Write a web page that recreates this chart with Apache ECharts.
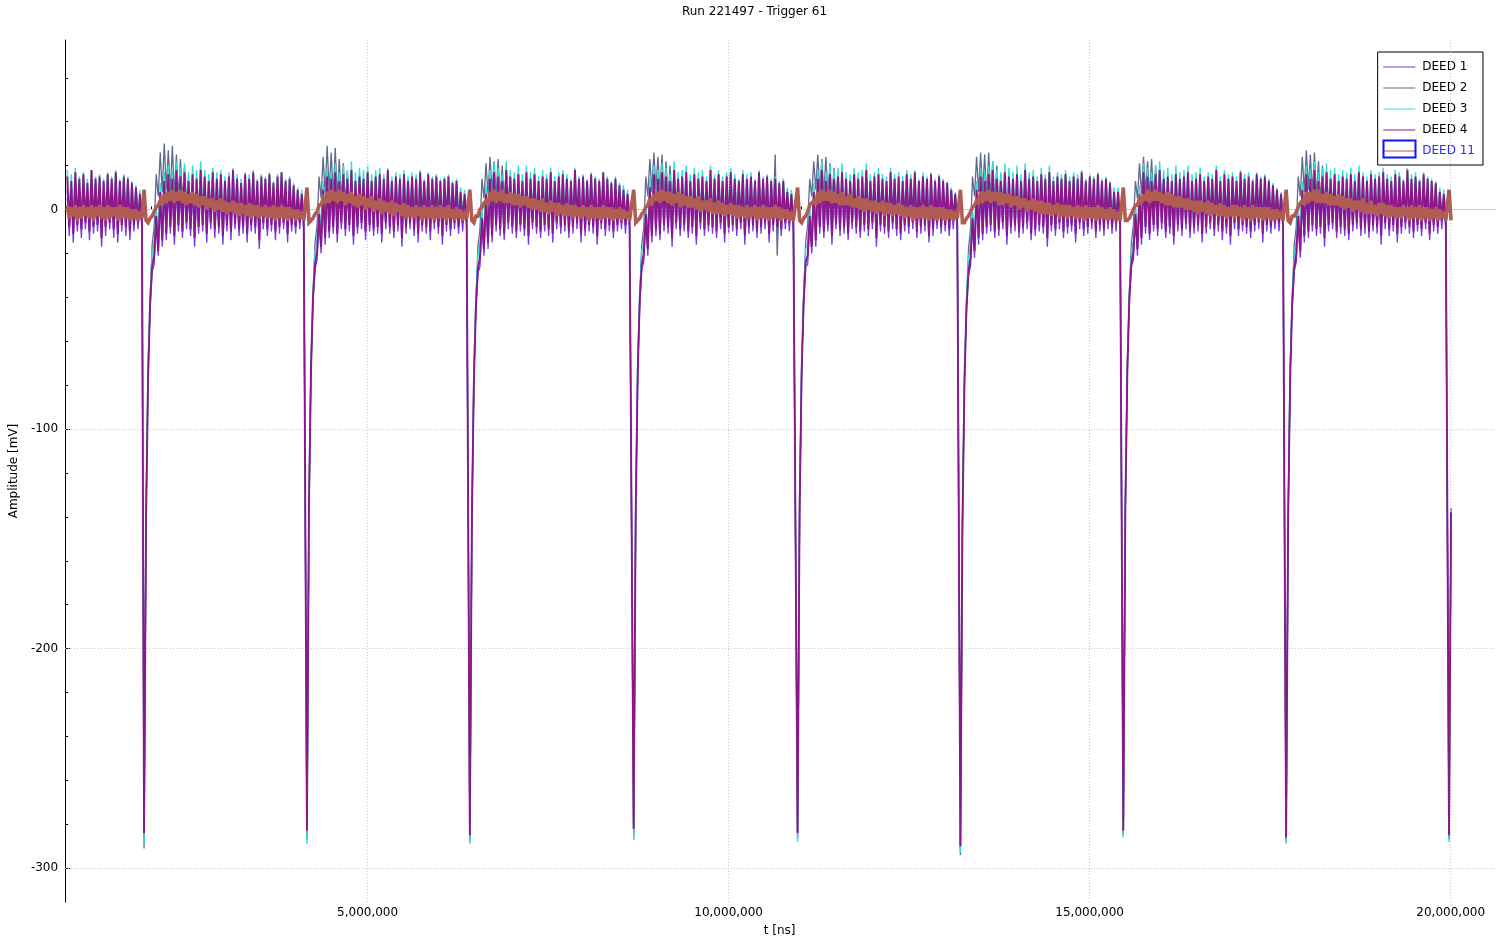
<!DOCTYPE html>
<html>
<head>
<meta charset="utf-8">
<script src="https://cdn.jsdelivr.net/npm/echarts@6/dist/echarts.min.js"></script>
<style>
html,body{margin:0;padding:0;background:#fff;}
#chart{width:1509px;height:945px;}
</style>
</head>
<body>
<div id="chart"></div>
<script>
// ---- Data ----
const titleText = 'Run 221497 - Trigger 61';
const seriesNames = ['DEED 1', 'DEED 2', 'DEED 3', 'DEED 4', 'DEED 11'];
// times of the large negative pulses [ns]
const pulseTimes = [1904000, 4160000, 6416000, 8685000, 10955000, 13210000, 15466000, 17721000, 19977000];
// spacing between the estimated samples [ns]
const sampleStep = 28000;
// tick values
const xMajorTicks = [5000000, 10000000, 15000000, 20000000];
const xMinorTicks = [1000000, 2000000, 3000000, 4000000, 6000000, 7000000, 8000000, 9000000, 11000000, 12000000, 13000000, 14000000, 16000000, 17000000, 18000000, 19000000];
const yMajorTicks = [-300, -200, -100, 0];
const yMinorTicks = [-280, -260, -240, -220, -180, -160, -140, -120, -80, -60, -40, -20, 20, 40, 60];
const xGridValues = [5000000, 10000000, 15000000, 20000000];
const yGridValues = [-300, -200, -100];

// Each series: first array = samples before the first pulse,
// then one array per pulse, starting at the pulse sample.
const deed1 = [
  [9,-12,8,-15,10,-10,7,-13,9,-9, 6,-14,11,-11,8,-10,9,-17,7,-12, 10,-9,8,-13,11,-15,7,-10,9,-12, 8,-14,6,-10,5,-9,4,-10],
  [-286,-138,-72,-45,-28,-25,-6,-21,4,-17, 8,-14,10,-11,9,-16,11,-10,8,-13, 10,-9,7,-12,9,-17,8,-11,11,-10, 9,-15,7,-9,10,-13,8,-11,9,-16,
   7,-10,9,-14,11,-9,8,-12,6,-11, 10,-15,8,-10,9,-11,7,-18,9,-9, 8,-12,10,-10,6,-14,9,-11,10,-9, 7,-15,8,-10,5,-11,5,-9,4,-10],
  [-285,-133,-70,-42,-27,-23,-5,-20,5,-16, 9,-13,8,-11,10,-15,7,-9,9,-12, 8,-10,11,-16,7,-11,9,-9,8,-14, 10,-10,7,-12,9,-11,10,-15,8,-9,
   11,-11,7,-13,9,-10,8,-17,10,-11, 7,-9,9,-12,8,-15,10,-10,7,-11, 9,-14,8,-9,9,-11,7,-16,8,-10, 9,-12,6,-9,7,-11,4,-10,4,-9],
  [-287,-141,-75,-46,-29,-26,-7,-21,3,-18, 8,-15,10,-10,9,-12,7,-14,11,-9, 9,-11,8,-13,10,-10,7,-12,10,-16, 8,-9,9,-11,7,-13,9,-10,8,-12,
   10,-15,7,-9,9,-11,10,-10,8,-13, 7,-11,11,-9,8,-15,9,-12,7,-10, 9,-11,8,-16,7,-9,10,-12,8,-10, 6,-13,8,-10,5,-9,4,-11,4,-9],
  [-285,-137,-71,-44,-27,-24,-5,-21,6,-15, 10,-12,8,-14,10,-10,9,-11,7,-17, 11,-9,8,-12,9,-10,10,-13,7,-11, 9,-16,8,-9,9,-12,7,-10,11,-11,
   8,-13,9,-9,7,-15,9,-11,10,-10, 8,-12,7,-9,10,-16,8,-11,9,-10, 7,-13,10,-11,8,-9,9,-15,7,-10, 8,-11,6,-12,7,-9,4,-10,4,-10],
  [-286,-136,-72,-44,-26,-25,-6,-20,4,-17, 8,-11,11,-13,7,-10,9,-16,8,-9, 9,-12,10,-11,8,-14,7,-9,9,-11, 8,-13,9,-10,11,-12,7,-9,9,-17,
   9,-10,8,-11,7,-13,10,-9,8,-12, 9,-14,7,-10,9,-11,8,-9,10,-13, 7,-11,9,-10,8,-15,9,-12,7,-9, 8,-11,7,-10,6,-12,5,-9,4,-11],
  [-291,-143,-76,-47,-30,-26,-7,-22,5,-16, 9,-14,7,-11,9,-10,11,-13,8,-12, 7,-9,10,-16,9,-11,8,-10,9,-13, 7,-11,11,-9,8,-14,9,-12,7,-10,
   9,-11,8,-17,10,-10,7,-12,9,-9, 8,-13,9,-11,7,-10,9,-15,8,-9, 10,-12,7,-11,9,-9,8,-13,9,-10, 7,-12,8,-9,6,-11,4,-10,5,-10],
  [-285,-135,-70,-42,-26,-23,-5,-21,3,-16, 10,-11,9,-14,7,-10,9,-12,11,-9, 8,-13,9,-11,7,-16,9,-10,8,-12, 9,-9,10,-13,7,-11,8,-10,9,-15,
   7,-11,9,-9,8,-12,10,-10,7,-14, 9,-11,8,-16,9,-9,7,-12,10,-10, 8,-11,9,-13,7,-10,9,-9,8,-15, 9,-10,7,-11,5,-9,5,-10,4,-9],
  [-287,-139,-73,-45,-28,-24,-6,-22,5,-15, 9,-13,8,-10,11,-12,7,-11,9,-17, 10,-10,8,-9,9,-13,7,-11,9,-12, 8,-14,9,-10,7,-9,10,-12,9,-11,
   7,-13,9,-10,8,-11,9,-16,10,-9, 8,-12,7,-10,9,-15,9,-11,7,-9, 11,-11,8,-13,9,-10,7,-12,9,-9, 8,-14,7,-10,6,-11,4,-9,4,-10],
  [-286,-136]
];
const deed2 = [
  [5,-3,7,-2,4,-4,6,-3,5,-2, 7,-4,4,-3,6,-2,5,-4,7,-3, 4,-2,6,-4,5,-3,7,-2,4,-3, 6,-4,5,-2,3,-3,3,-4],
  [-291,-142,-78,-41,-16,-8,16,6,26,8, 30,9,27,7,29,6,25,5,23,4, 19,2,14,0,11,-1,8,-2,7,-3, 5,-4,7,-2,6,-3,5,-4,7,-2,
   6,-3,4,-2,7,-4,5,-3,6,-2, 5,-4,7,-3,4,-2,6,-4,5,-3, 7,-2,5,-4,6,-3,4,-2,7,-3, 5,-4,6,-2,4,-3,3,-2,3,-4],
  [-287,-139,-76,-39,-15,-7,15,5,24,7, 29,8,26,6,28,5,23,4,21,3, 17,1,13,0,10,-1,8,-2,6,-3, 7,-2,5,-4,6,-3,7,-2,5,-4,
   6,-3,7,-2,5,-4,6,-3,4,-2, 7,-3,5,-4,6,-2,7,-3,5,-4, 6,-2,4,-3,7,-4,5,-2,6,-3, 4,-2,6,-4,5,-3,3,-2,3,-3],
  [-288,-143,-79,-42,-17,-9,14,5,21,7, 24,8,22,6,23,5,20,4,18,3, 15,1,12,-1,9,-2,7,-3,6,-2, 5,-4,7,-3,6,-2,5,-4,6,-3,
   7,-2,5,-3,6,-4,4,-2,7,-3, 5,-4,6,-2,7,-3,5,-4,6,-2, 4,-3,7,-2,5,-4,6,-3,5,-2, 6,-4,5,-3,4,-2,3,-3,3,-4],
  [-287,-140,-77,-40,-16,-8,15,6,23,8, 26,9,24,7,25,6,22,5,20,3, 16,1,12,0,9,-1,8,-2,6,-3, 7,-4,5,-2,6,-3,7,-4,5,-2,
   6,-3,4,-4,7,-2,5,-3,6,-4, 5,-2,7,-3,6,-4,4,-2,7,-3, 5,-4,6,-2,7,-3,5,-4,6,-2, 25,-21,6,-3,5,-4,3,-2,3,-3],
  [-286,-138,-75,-39,-15,-7,14,6,22,9, 25,8,23,7,24,6,21,4,19,3, 16,1,12,0,10,-1,8,-2,7,-3, 5,-2,6,-4,7,-3,5,-2,6,-4,
   7,-3,5,-2,6,-4,7,-3,4,-2, 6,-4,5,-3,7,-2,6,-4,5,-3, 7,-2,4,-3,6,-4,5,-2,7,-3, 5,-4,6,-2,4,-3,3,-4,3,-3],
  [-294,-146,-80,-43,-18,-9,15,6,24,8, 26,8,25,6,26,5,22,4,20,2, 16,1,12,-1,9,-2,8,-3,6,-2, 7,-4,5,-3,6,-2,7,-4,5,-3,
   6,-2,7,-4,5,-3,6,-2,4,-4, 7,-3,5,-2,6,-4,7,-3,5,-2, 6,-4,5,-3,7,-2,4,-4,6,-3, 5,-2,7,-4,5,-3,3,-2,3,-4],
  [-285,-137,-74,-38,-15,-7,13,5,21,7, 24,8,22,6,23,5,20,4,18,3, 15,1,11,0,9,-1,7,-2,6,-3, 5,-4,7,-2,6,-3,5,-4,7,-2,
   6,-3,4,-2,7,-4,5,-3,6,-2, 5,-4,7,-3,4,-2,6,-4,5,-3, 7,-2,5,-4,6,-3,4,-2,7,-3, 5,-4,6,-2,4,-3,3,-2,3,-3],
  [-288,-141,-77,-41,-16,-8,15,6,24,8, 27,9,25,7,26,5,22,4,20,3, 16,1,12,0,10,-1,8,-2,6,-3, 7,-2,5,-4,6,-3,7,-2,5,-4,
   6,-3,7,-2,5,-4,6,-3,4,-2, 7,-3,5,-4,6,-2,7,-3,5,-4, 6,-2,4,-3,7,-4,5,-2,6,-3, 4,-2,6,-4,5,-3,3,-2,3,-4],
  [-287,-142]
];
const deed3 = [
  [18,-3,16,-5,19,-2,15,-4,17,-3, 14,-5,18,-2,15,-4,16,-6,14,-3, 17,-2,15,-4,18,-5,14,-3,16,-2, 15,-4,13,-3,11,-2,9,-3],
  [-289,-135,-70,-39,-20,-15,1,-11,12,-7, 17,-6,20,-3,18,-6,22,-2,19,-5, 21,-2,17,-4,20,-7,18,-3,22,-2, 18,-5,16,-2,19,-4,17,-3,18,-6,
   15,-2,17,-5,19,-2,16,-4,14,-3, 17,-5,16,-2,18,-3,14,-6,16,-2, 15,-4,17,-2,13,-5,16,-3,17,-2, 14,-5,15,-2,12,-3,10,-2,9,-3],
  [-289,-132,-68,-37,-19,-14,2,-10,13,-6, 19,-5,17,-3,21,-6,17,-2,20,-4, 18,-3,22,-6,17,-4,19,-2,18,-5, 20,-2,16,-4,18,-3,19,-6,16,-2,
   19,-4,15,-5,17,-2,16,-6,18,-3, 15,-2,17,-4,16,-5,18,-2,14,-3, 17,-5,15,-2,16,-3,14,-6,15,-2, 16,-4,13,-2,14,-3,10,-2,9,-2],
  [-289,-138,-72,-40,-21,-16,0,-11,11,-8, 18,-7,21,-3,19,-4,16,-6,22,-2, 18,-4,17,-5,20,-2,16,-4,20,-6, 17,-2,19,-3,15,-5,18,-2,16,-4,
   19,-6,15,-2,17,-3,18,-2,16,-5, 14,-3,19,-2,15,-6,16,-4,14,-2, 17,-3,15,-6,14,-2,17,-4,15,-3, 13,-5,15,-2,12,-2,11,-3,9,-2],
  [-287,-134,-69,-38,-19,-15,2,-10,14,-6, 20,-4,18,-6,21,-3,19,-4,16,-7, 22,-2,17,-4,18,-3,20,-5,16,-3, 19,-6,17,-2,18,-4,15,-3,20,-4,
   16,-5,18,-2,15,-6,17,-3,19,-2, 16,-4,14,-2,18,-6,16,-3,17,-2, 14,-5,18,-3,15,-2,16,-6,14,-3, 15,-4,13,-5,14,-2,10,-3,9,-3],
  [-288,-133,-70,-38,-18,-16,1,-10,12,-8, 18,-4,22,-6,17,-3,20,-7,18,-2, 19,-5,21,-4,17,-6,16,-2,19,-4, 17,-6,18,-3,21,-5,16,-2,17,-7,
   19,-3,16,-4,15,-6,19,-2,16,-5, 17,-6,15,-3,18,-4,16,-2,18,-6, 14,-4,17,-3,15,-6,17,-5,14,-2, 16,-4,14,-3,13,-5,10,-2,8,-4],
  [-293,-140,-73,-41,-22,-16,0,-12,13,-7, 19,-7,17,-4,20,-3,22,-6,18,-5, 17,-2,21,-7,19,-4,17,-3,20,-6, 16,-4,21,-2,17,-6,18,-5,15,-3,
   19,-4,16,-8,20,-3,15,-5,17,-2, 16,-6,18,-4,15,-3,17,-7,16,-2, 18,-5,14,-4,16,-2,15,-6,17,-3, 14,-5,15,-2,13,-4,10,-3,10,-3],
  [-286,-134,-69,-37,-20,-14,2,-11,11,-7, 21,-4,19,-7,17,-3,20,-5,22,-2, 18,-6,19,-4,16,-8,20,-3,17,-5, 18,-2,20,-6,16,-4,17,-3,19,-7,
   15,-4,17,-2,16,-5,20,-3,15,-6, 18,-4,16,-8,17,-2,15,-5,18,-3, 16,-4,17,-6,14,-3,17,-2,15,-7, 16,-3,14,-4,12,-2,10,-3,8,-2],
  [-289,-137,-71,-39,-21,-15,1,-12,13,-6, 20,-6,18,-3,22,-5,17,-4,19,-8, 21,-3,18,-2,19,-6,16,-4,18,-5, 17,-7,19,-3,16,-2,20,-5,17,-4,
   15,-6,18,-3,16,-4,17,-8,19,-2, 16,-5,15,-3,18,-7,17,-4,14,-2, 19,-4,16,-6,17,-3,14,-5,17,-2, 15,-7,14,-3,13,-4,10,-2,9,-3],
  [-288,-140]
];
const deed4 = [
  [15,-8,13,-11,17,-7,14,-9,16,-6, 12,-10,18,-8,14,-7,15,-13,13,-8, 16,-6,14,-9,17,-11,13,-7,15,-8, 14,-10,12,-7,10,-6,7,-6],
  [-284,-140,-76,-43,-26,-21,-3,-19,8,-14, 13,-11,16,-8,14,-12,18,-7,15,-10, 17,-6,13,-9,16,-13,14,-8,18,-7, 15,-11,13,-6,17,-9,14,-8,16,-12,
   13,-7,15,-10,18,-6,14,-9,12,-8, 16,-11,14,-7,17,-8,13,-14,15,-6, 14,-9,16,-7,12,-10,15,-8,17,-6, 13,-11,14,-7,11,-8,9,-6,7,-6],
  [-283,-135,-73,-40,-25,-19,-2,-17,9,-13, 15,-10,14,-8,17,-11,13,-6,16,-9, 14,-7,18,-12,13,-8,15,-6,14,-10, 17,-7,13,-9,15,-8,16,-11,14,-6,
   18,-8,13,-10,15,-7,14,-13,16,-8, 13,-6,15,-9,14,-11,17,-7,13,-8, 16,-10,14,-6,15,-8,13,-12,14,-7, 15,-9,12,-6,13,-8,8,-6,7,-5],
  [-285,-142,-78,-44,-27,-22,-4,-18,7,-15, 14,-12,17,-7,15,-9,13,-11,18,-6, 15,-8,14,-10,16,-7,13,-9,17,-12, 14,-6,16,-8,13,-10,15,-7,14,-9,
   17,-11,13,-6,15,-8,16,-7,14,-10, 13,-8,18,-6,14,-11,15,-9,13,-7, 16,-8,14,-12,13,-6,17,-9,14,-7, 12,-10,14,-7,11,-6,9,-7,7,-5],
  [-282,-138,-74,-41,-25,-20,-2,-18,10,-12, 16,-9,14,-11,17,-7,15,-8,13,-13, 18,-6,14,-9,15,-7,17,-10,13,-8, 16,-12,14,-6,15,-9,13,-7,18,-8,
   14,-10,16,-6,13,-11,15,-8,17,-7, 14,-9,13,-6,16,-12,14,-8,15,-7, 13,-10,17,-8,14,-6,15,-11,13,-7, 14,-8,12,-9,13,-6,8,-6,7,-6],
  [-284,-136,-75,-42,-24,-21,-3,-17,8,-14, 14,-8,18,-10,13,-7,16,-12,14,-6, 15,-9,17,-8,14,-11,13,-6,16,-8, 14,-10,15,-7,18,-9,13,-6,15,-13,
   16,-7,14,-8,13,-10,17,-6,14,-9, 15,-11,13,-7,16,-8,14,-6,17,-10, 13,-8,15,-7,14,-12,16,-9,13,-6, 15,-8,13,-7,12,-9,9,-5,7,-7],
  [-290,-145,-79,-45,-28,-22,-4,-19,9,-13, 15,-11,13,-8,16,-7,18,-10,14,-9, 13,-6,17,-12,15,-8,14,-7,16,-10, 13,-8,18,-6,14,-11,15,-9,13,-7,
   16,-8,14,-13,17,-7,13,-9,15,-6, 14,-10,16,-8,13,-7,15,-11,14,-6, 17,-9,13,-8,15,-6,14,-10,16,-7, 13,-9,14,-6,12,-8,8,-6,8,-6],
  [-283,-137,-74,-40,-25,-19,-2,-18,7,-13, 17,-8,15,-11,13,-7,16,-9,18,-6, 14,-10,15,-8,13,-12,16,-7,14,-9, 15,-6,17,-10,13,-8,14,-7,16,-11,
   13,-8,15,-6,14,-9,18,-7,13,-10, 16,-8,14,-12,15,-6,13,-9,17,-7, 14,-8,15,-10,13,-7,16,-6,14,-11, 15,-7,13,-8,11,-6,9,-6,7,-5],
  [-286,-141,-77,-43,-27,-20,-3,-19,9,-12, 16,-10,14,-7,18,-9,13,-8,15,-13, 17,-7,14,-6,16,-10,13,-8,15,-9, 14,-11,16,-7,13,-6,17,-9,15,-8,
   13,-10,16,-7,14,-8,15,-12,17,-6, 14,-9,13,-7,16,-11,15,-8,13,-6, 18,-8,14,-10,15,-7,13,-9,16,-6, 14,-11,13,-7,12,-8,8,-5,7,-6],
  [-285,-138]
];
const deed11 = [
  [2,-4,1,-3,2,-5,1,-4,2,-3, 1,-4,2,-5,1,-3,2,-4,1,-5, 2,-4,1,-3,1,-5,2,-4,1,-4, 1,-5,0,-4,0,-5,-1,-4],
  [9,-5,-6,-4,-3,-1,1,2,4,2, 7,3,8,4,9,3,8,4,9,3, 8,2,7,3,8,2,7,1,6,2, 6,0,5,1,5,-1,4,0,5,-1,
   4,-2,3,-1,4,-2,3,-3,3,-2, 2,-3,3,-4,2,-3,2,-4,1,-3, 2,-4,1,-4,2,-5,1,-4,2,-4, 1,-5,1,-4,0,-5,0,-4,-1,-5],
  [10,-6,-5,-4,-2,-1,2,2,5,3, 8,3,9,4,8,3,9,4,8,2, 7,3,8,2,6,1,7,2,6,0, 5,1,6,-1,4,0,5,-2,4,-1,
   3,-2,4,-3,3,-1,2,-3,3,-4, 2,-3,1,-4,2,-3,1,-5,2,-4, 1,-4,2,-5,1,-4,2,-4,1,-5, 2,-4,0,-5,1,-4,0,-5,-1,-4],
  [9,-5,-6,-3,-3,0,1,3,4,2, 8,4,9,3,8,4,9,3,7,3, 8,2,7,2,7,1,6,2,6,1, 5,0,5,0,4,-1,5,-1,3,-2,
   4,-1,3,-3,3,-2,2,-3,3,-3, 2,-4,2,-3,1,-4,2,-3,1,-5, 2,-4,1,-4,1,-5,2,-4,1,-4, 1,-5,0,-4,1,-5,0,-4,-1,-5],
  [9,-6,-5,-4,-2,-1,1,2,5,2, 7,4,8,3,9,4,8,3,8,2, 7,3,8,1,7,2,6,1,6,1, 5,0,6,-1,4,0,4,-1,5,-2,
   3,-2,4,-2,3,-3,2,-2,3,-3, 2,-4,2,-3,1,-4,2,-4,1,-3, 2,-5,1,-4,2,-4,1,-5,1,-4, 2,-4,1,-5,0,-4,0,-5,-1,-5],
  [10,-5,-6,-4,-3,-1,2,3,4,2, 8,3,9,4,8,4,9,3,8,3, 7,2,8,2,6,2,7,1,5,1, 6,0,5,-1,5,0,4,-1,4,-2,
   3,-1,4,-3,3,-2,3,-3,2,-2, 3,-3,2,-4,1,-3,2,-5,1,-4, 1,-4,2,-4,1,-5,2,-4,1,-5, 1,-4,1,-5,0,-4,0,-5,-1,-4],
  [9,-6,-6,-4,-3,-1,1,2,4,3, 8,3,8,4,9,3,8,4,8,2, 8,2,7,3,7,1,6,2,6,0, 5,1,5,-1,4,0,5,-1,4,-2,
   4,-2,3,-2,3,-3,2,-2,3,-4, 2,-3,2,-4,2,-3,1,-4,2,-4, 1,-5,2,-4,1,-4,1,-5,2,-4, 1,-4,0,-5,1,-4,0,-5,-1,-5],
  [10,-5,-5,-4,-2,0,2,2,5,3, 7,4,9,3,8,4,9,4,8,3, 7,2,8,2,7,1,6,1,6,1, 5,0,5,0,4,-1,4,-2,4,-1,
   3,-2,4,-3,3,-2,2,-3,3,-3, 2,-4,1,-3,2,-4,2,-3,1,-5, 2,-4,1,-5,2,-4,1,-4,1,-5, 1,-4,1,-5,0,-5,0,-4,-1,-5],
  [9,-5,-6,-3,-3,-1,1,3,4,2, 8,3,8,4,9,3,9,3,7,3, 8,2,7,2,6,2,7,1,6,0, 5,1,5,-1,4,0,4,-1,5,-2,
   3,-2,4,-2,2,-3,3,-2,3,-3, 2,-4,2,-3,1,-4,1,-4,2,-3, 1,-5,2,-4,1,-4,2,-5,1,-4, 1,-5,0,-4,1,-5,0,-4,-1,-5],
  [9,-5]
];
const seriesColors = ['#7436ee', '#5f6a8e', '#30e0d0', '#8b1789', '#b05c52'];
const seriesWidths = [1.3, 1.3, 1.4, 1.9, 3.6];

// ---- build [t, v] pairs from the sample arrays ----
function toPoints(segments) {
  const pts = [];
  const lead = segments[0];
  lead.forEach((v, j) => pts.push([pulseTimes[0] - (lead.length - j) * sampleStep, v]));
  for (let k = 1; k < segments.length; k++) {
    segments[k].forEach((v, r) => pts.push([pulseTimes[k - 1] + r * sampleStep, v]));
  }
  return pts;
}
const allData = [deed1, deed2, deed3, deed4, deed11];

const FONT = 'DejaVu Sans';
const chart = echarts.init(document.getElementById('chart'));

const series = [{
  type: 'line', name: '__grid', data: [], z: 1, silent: true,
  markLine: {
    silent: true, symbol: 'none', animation: false,
    label: { show: false },
    lineStyle: { color: '#c4c4c4', type: [1, 2], width: 1 },
    data: [{ yAxis: 0, lineStyle: { type: 'solid', color: '#cccccc' } }]
      .concat(yGridValues.map(v => ({ yAxis: v })))
      .concat(xGridValues.map(v => ({ xAxis: v })))
  }
}];
seriesNames.forEach((name, i) => {
  series.push({
    type: 'line', name: name, data: toPoints(allData[i]),
    xAxisIndex: 0, yAxisIndex: 0,
    symbol: 'none', showSymbol: false, animation: false,
    lineStyle: { color: seriesColors[i], width: seriesWidths[i], join: 'miter', miterLimit: 3 },
    itemStyle: { color: seriesColors[i] },
    z: 2 + i
  });
});

chart.setOption({
  animation: false,
  backgroundColor: '#ffffff',
  textStyle: { fontFamily: FONT },
  title: {
    text: titleText, left: 'center', top: 1,
    textStyle: { fontSize: 12, fontWeight: 'normal', color: '#000', fontFamily: FONT }
  },
  grid: { left: 64, right: 15, top: 40, bottom: 43, containLabel: false },
  legend: {
    orient: 'vertical', right: 26, top: 52,
    data: seriesNames.map((n, i) => i === 4 ? { name: n, textStyle: { color: '#2a2aff' } } : { name: n }),
    itemWidth: 32, itemHeight: 14, itemGap: 7,
    padding: [8, 8, 7, 5],
    borderColor: '#000', borderWidth: 1, backgroundColor: '#fff',
    textStyle: { fontSize: 12, color: '#000', fontFamily: FONT, padding: [0, 0, 0, 2], lineHeight: 14 },
    itemStyle: { opacity: 0 },
    lineStyle: { width: 1.2 },
    selectedMode: false
  },
  graphic: [{
    type: 'rect', z: 100,
    shape: { x: 1383.5, y: 140.5, width: 32, height: 17 },
    style: { fill: 'none', stroke: '#1010ff', lineWidth: 2 }
  }],
  xAxis: [{
    type: 'value', position: 'bottom', min: 811000, max: 20600000,
    name: 't [ns]', nameLocation: 'middle', nameGap: 23,
    nameTextStyle: { fontSize: 12, color: '#000', fontFamily: FONT },
    axisLine: { show: true, lineStyle: { color: '#000', width: 1 } },
    axisTick: { show: true, inside: true, length: 6, customValues: xMajorTicks, lineStyle: { color: '#000' } },
    axisLabel: { show: true, customValues: xMajorTicks, color: '#000', fontSize: 12, margin: 5, fontFamily: FONT,
      formatter: v => Math.round(v).toLocaleString('en-US') },
    splitLine: { show: false }, minorTick: { show: false }
  }, {
    type: 'value', position: 'bottom', min: 811000, max: 20600000,
    axisLine: { show: false },
    axisTick: { show: true, inside: true, length: 3, customValues: xMinorTicks, lineStyle: { color: '#000' } },
    axisLabel: { show: false }, splitLine: { show: false }
  }],
  yAxis: [{
    type: 'value', position: 'left', min: -315.4, max: 77.2,
    name: 'Amplitude [mV]', nameLocation: 'middle', nameGap: 44, nameRotate: 90,
    nameTextStyle: { fontSize: 12, color: '#000', fontFamily: FONT },
    axisLine: { show: true, lineStyle: { color: '#000', width: 1 } },
    axisTick: { show: true, inside: true, length: 5, customValues: yMajorTicks, lineStyle: { color: '#000' } },
    axisLabel: { show: true, customValues: yMajorTicks, color: '#000', fontSize: 12, margin: 7, fontFamily: FONT },
    splitLine: { show: false }
  }, {
    type: 'value', position: 'left', min: -315.4, max: 77.2,
    axisLine: { show: false },
    axisTick: { show: true, inside: true, length: 3, customValues: yMinorTicks, lineStyle: { color: '#000' } },
    axisLabel: { show: false }, splitLine: { show: false }
  }],
  series: series
});
</script>
</body>
</html>
